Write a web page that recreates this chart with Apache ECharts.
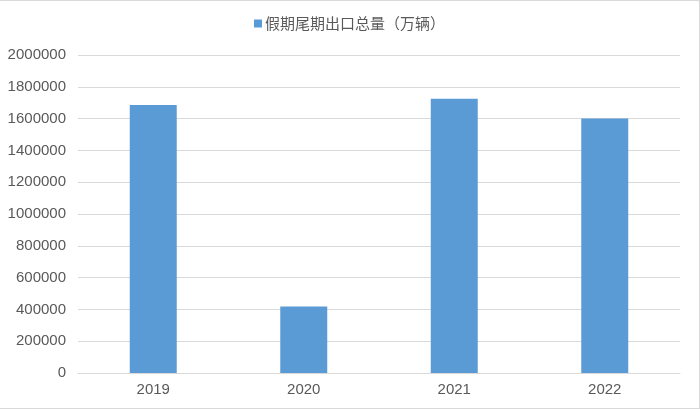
<!DOCTYPE html>
<html><head><meta charset="utf-8">
<script src="https://cdn.jsdelivr.net/npm/echarts@6/dist/echarts.min.js"></script>
<style>
html,body{margin:0;padding:0;background:#fff;}
#c{width:700px;height:409px;box-sizing:border-box;border-top:1px solid #d9d9d9;border-right:1px solid #d9d9d9;border-bottom:1px solid #d9d9d9;}
</style></head>
<body><div id="c"></div>
<script>
const categories = ['2019','2020','2021','2022'];
const seriesName = '假期尾期出口总量（万辆）';
const values = [1685000, 418000, 1725000, 1600000];
const yTicks = {min:0, max:2000000, interval:200000};

const chart = echarts.init(document.getElementById('c'), null, {renderer:'canvas'});
chart.setOption({
  animation:false,
  textStyle:{fontFamily:'Liberation Sans, Noto Sans CJK SC, sans-serif'},
  legend:{
    top:10, left:'center',
    itemWidth:8, itemHeight:8, itemGap:4,
    icon:'rect',
    textStyle:{color:'#595959', fontSize:15, fontFamily:'Noto Sans CJK SC, sans-serif', padding:[0,0,0,-2]},
    data:[seriesName]
  },
  grid:{left:78, right:19, top:54, bottom:35, containLabel:false},
  xAxis:{
    type:'category', data:categories,
    axisLine:{lineStyle:{color:'#d9d9d9'}},
    axisTick:{show:false},
    axisLabel:{color:'#595959', fontSize:15, margin:9}
  },
  yAxis:{
    type:'value', min:yTicks.min, max:yTicks.max, interval:yTicks.interval,
    axisLine:{show:false}, axisTick:{show:false},
    splitLine:{lineStyle:{color:'#d9d9d9', width:1}},
    axisLabel:{color:'#595959', fontSize:15, margin:12, formatter:function(v){return String(v);}}
  },
  series:[{
    name:seriesName, type:'bar', data:values,
    barWidth:47,
    itemStyle:{color:'#5b9bd5'}
  }]
});
</script></body></html>
